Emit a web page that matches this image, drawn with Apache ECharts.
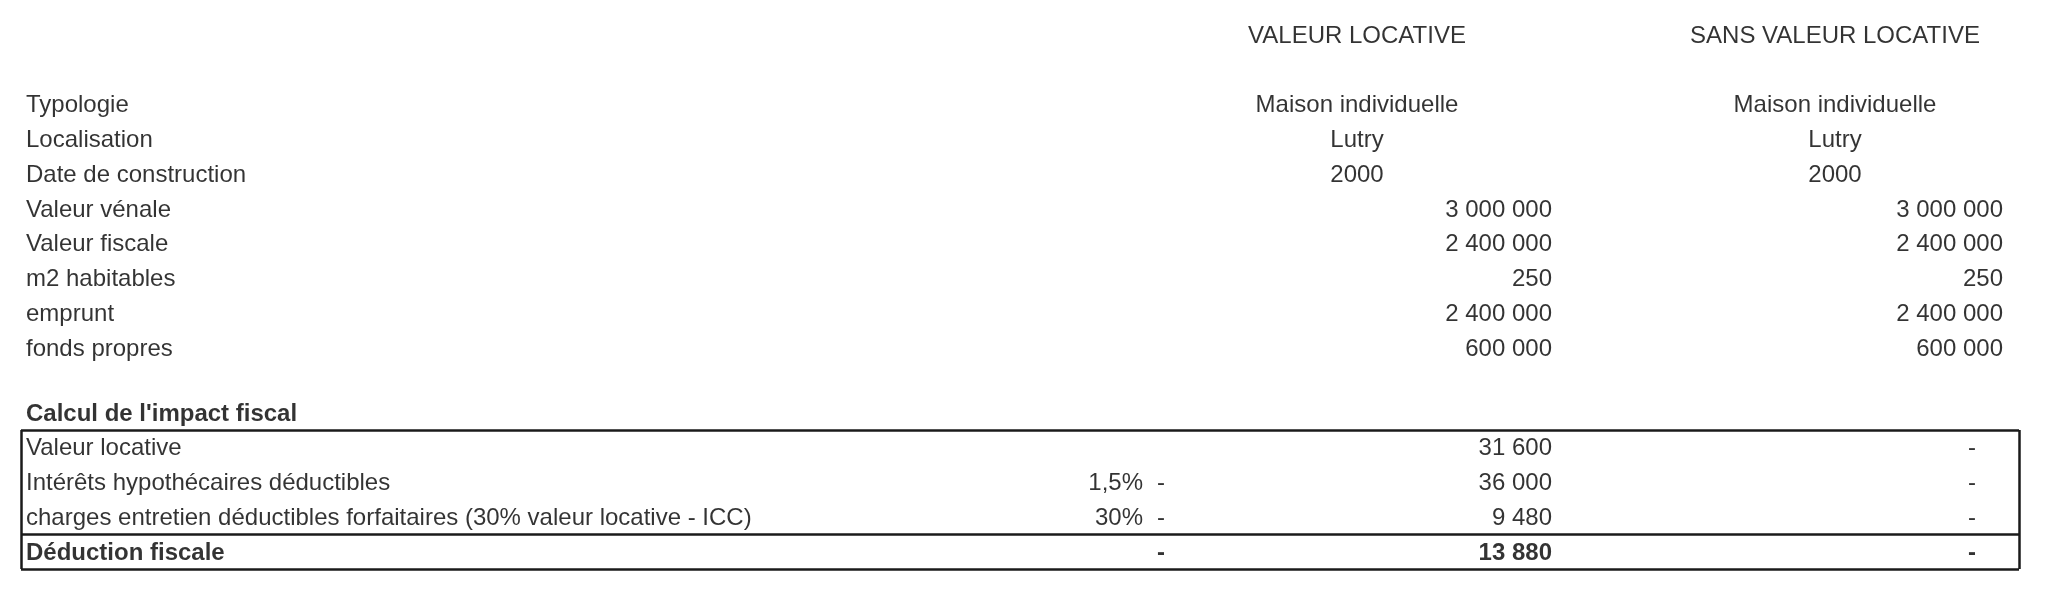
<!DOCTYPE html>
<html>
<head>
<meta charset="utf-8">
<script src="https://cdn.jsdelivr.net/npm/echarts@6/dist/echarts.min.js"></script>
<style>html,body{margin:0;padding:0;background:#fff}#c{width:2048px;height:595px}</style>
</head>
<body>
<div id="c"></div>
<script>
// ---- data ----
const columnHeaders = ['VALEUR LOCATIVE', 'SANS VALEUR LOCATIVE'];
const rowLabels = ['Typologie', 'Localisation', 'Date de construction', 'Valeur vénale', 'Valeur fiscale', 'm2 habitables', 'emprunt', 'fonds propres'];
const avecTexts = ['Maison individuelle', 'Lutry', '2000'];
const sansTexts = ['Maison individuelle', 'Lutry', '2000'];
const avecNumbers = [3000000, 2400000, 250, 2400000, 600000];
const sansNumbers = [3000000, 2400000, 250, 2400000, 600000];
const sectionTitle = "Calcul de l'impact fiscal";
const fiscalLabels = ['Valeur locative', 'Intérêts hypothécaires déductibles', 'charges entretien déductibles forfaitaires (30% valeur locative - ICC)', 'Déduction fiscale'];
const fiscalRates = ['', '1,5%', '30%', ''];
const fiscalMid = [null, 0, 0, 0];
const fiscalAvec = [31600, 36000, 9480, 13880];
const fiscalSans = [0, 0, 0, 0];

// ---- layout ----
const FONT = '"Liberation Sans", Arial, sans-serif';
const FS = 24;
const X = { label: 26, colA: 1357, colARight: 1552, colB: 1835, colBRight: 2003, rateRight: 1143, midDash: 1161, colBDash: 1972, boxL: 21, boxR: 2019 };
const headerY = 36.5;
const infoY = [105.5, 140.5, 175.5, 210.5, 244.5, 279.5, 314.5, 349.5];
const titleY = 414.5;
const fiscalY = [448.5, 483.5, 518.5, 553];
const lineY = { top: 430, sep: 534, bottom: 569 };

function fmt(v) {
  if (v === 0) return '-';
  return String(v).replace(/\B(?=(\d{3})+(?!\d))/g, ' ');
}

const leftItems = [], centerItems = [], rightItems = [];
function add(arr, x, y, text, bold) {
  arr.push({ value: [x, y], text: text, bold: !!bold });
}
add(centerItems, X.colA, headerY, columnHeaders[0]);
add(centerItems, X.colB, headerY, columnHeaders[1]);
rowLabels.forEach((l, i) => add(leftItems, X.label, infoY[i], l));
avecTexts.forEach((t, i) => add(centerItems, X.colA, infoY[i], t));
sansTexts.forEach((t, i) => add(centerItems, X.colB, infoY[i], t));
avecNumbers.forEach((v, i) => add(rightItems, X.colARight, infoY[i + 3], fmt(v)));
sansNumbers.forEach((v, i) => add(rightItems, X.colBRight, infoY[i + 3], fmt(v)));
add(leftItems, X.label, titleY, sectionTitle, true);
fiscalLabels.forEach((l, i) => add(leftItems, X.label, fiscalY[i], l, i === 3));
fiscalRates.forEach((r, i) => { if (r) add(rightItems, X.rateRight, fiscalY[i], r); });
fiscalMid.forEach((v, i) => { if (v !== null) add(centerItems, X.midDash, fiscalY[i], fmt(v), i === 3); });
fiscalAvec.forEach((v, i) => add(rightItems, X.colARight, fiscalY[i], fmt(v), i === 3));
fiscalSans.forEach((v, i) => add(centerItems, X.colBDash, fiscalY[i], fmt(v), i === 3));

function textSeries(items, align, extra) {
  return Object.assign({
    type: 'scatter',
    symbolSize: 1,
    itemStyle: { color: 'rgba(0,0,0,0)' },
    silent: true,
    data: items.map(d => ({
      value: d.value,
      label: {
        show: true,
        position: 'inside',
        align: align,
        verticalAlign: 'middle',
        formatter: d.text,
        color: '#000',
        fontFamily: FONT,
        fontSize: FS,
        fontWeight: d.bold ? 'bold' : 'normal'
      }
    }))
  }, extra || {});
}

const lineStyle = { color: '#1a1a1a', width: 2.5, type: 'solid' };
const boxLines = [
  [{ coord: [X.boxL, lineY.top] }, { coord: [X.boxR, lineY.top] }],
  [{ coord: [X.boxL, lineY.sep] }, { coord: [X.boxR, lineY.sep] }],
  [{ coord: [X.boxL, lineY.bottom] }, { coord: [X.boxR, lineY.bottom] }],
  [{ coord: [X.boxL, lineY.top] }, { coord: [X.boxL, lineY.bottom] }],
  [{ coord: [X.boxR, lineY.top] }, { coord: [X.boxR, lineY.bottom] }]
];

const chart = echarts.init(document.getElementById('c'), null, { renderer: 'canvas' });
chart.setOption({
  animation: false,
  backgroundColor: '#fff',
  grid: { left: 0, right: 0, top: 0, bottom: 0 },
  xAxis: { type: 'value', min: 0, max: 2048, show: false },
  yAxis: { type: 'value', min: 0, max: 595, inverse: true, show: false },
  series: [
    textSeries(leftItems, 'left', {
      markLine: { silent: true, symbol: ['none', 'none'], label: { show: false }, lineStyle: lineStyle, data: boxLines }
    }),
    textSeries(centerItems, 'center'),
    textSeries(rightItems, 'right')
  ]
});
</script>
</body>
</html>
